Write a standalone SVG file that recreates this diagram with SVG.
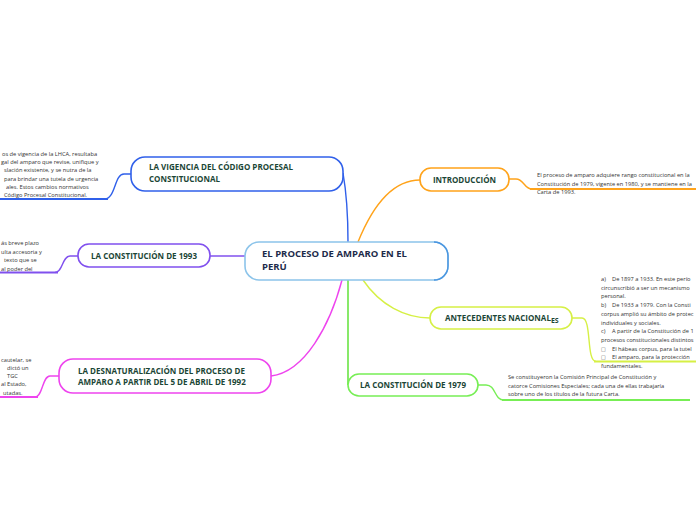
<svg xmlns="http://www.w3.org/2000/svg" width="696" height="520" viewBox="0 0 696 520">
<style>
.bg{fill:#ffffff}
.node{fill:#ffffff;stroke-width:1.6}
.lbl{font-family:"Open Sans","Noto Sans","Liberation Sans",sans-serif;font-weight:bold;font-size:8px;fill:#1b4636}
.main{font-family:"Open Sans","Noto Sans","Liberation Sans",sans-serif;font-weight:bold;font-size:9.5px;fill:#1d2b4a}
.body{font-family:"Open Sans","Noto Sans","Liberation Sans",sans-serif;font-size:5.7px;fill:#333333}
.c{fill:none;stroke-width:1.4}
.u{fill:none;stroke-width:2}
.box{font-family:"DejaVu Sans",sans-serif;font-size:5px;fill:#555555}
</style>
<rect class="bg" x="0" y="0" width="696" height="520"/>
<g id="connectors">
  <path class="c" stroke="#3060ea" d="M343,173 C346,190 348,215 348,242"/>
  <path class="c" stroke="#3060ea" d="M131,174 L124,174 C114,174 116,199 104,199"/>
  <path class="u" stroke="#3060ea" d="M0,199 H108"/>
  <path class="c" stroke="#8050ee" d="M210,256 H245"/>
  <path class="c" stroke="#8050ee" d="M78,256 L70,256 C62,256 63,272.5 55,272.5"/>
  <path class="u" stroke="#8050ee" d="M0,272.5 H58"/>
  <path class="c" stroke="#ee44ee" d="M342,280 C330,325 305,372 271,376"/>
  <path class="c" stroke="#ee44ee" d="M59,376 L50,376 C42,376 43,397 35,397"/>
  <path class="u" stroke="#ee44ee" d="M0,397 H38"/>
  <path class="c" stroke="#ffa31a" d="M358,242 C375,200 395,180 420,180"/>
  <path class="c" stroke="#ffa31a" d="M509,179 L516,179 C524,179 524,189 532,189"/>
  <path class="u" stroke="#ffa31a" d="M530,189 H696"/>
  <path class="c" stroke="#d6f045" d="M363,280 C380,305 405,318 430,318"/>
  <path class="c" stroke="#d6f045" d="M572,318 L582,318 C592,318 586,361.5 596,361.5"/>
  <path class="u" stroke="#d6f045" d="M594,361.5 H696"/>
  <path class="c" stroke="#55e02a" d="M348,280 V385"/>
  <path class="c" stroke="#77ee55" d="M478,385 L486,385 C496,385 494,400 504,400"/>
  <path class="u" stroke="#77ee55" d="M502,400 H690"/>
</g>
<g id="central">
  <rect class="node" x="245" y="242" width="203" height="38" rx="14" stroke="#8cc4ea" stroke-width="2"/>
  <path d="M434,242 A14,14 0 0 1 448,256 V266 A14,14 0 0 1 434,280" fill="none" stroke="#4a95e0" stroke-width="1.4"/>
  <text class="main" x="262" y="257">EL PROCESO DE AMPARO EN EL</text>
  <text class="main" x="262" y="270">PERÚ</text>
</g>
<g id="introduccion">
  <rect class="node" x="420" y="168" width="89" height="23" rx="11" stroke="#ffa31a"/>
  <text class="lbl" x="464.5" y="182.5" text-anchor="middle">INTRODUCCIÓN</text>
  <text class="body" x="537" y="177">El proceso de amparo adquiere rango constitucional en la</text>
  <text class="body" x="537" y="185.5">Constitución de 1979, vigente en 1980, y se mantiene en la</text>
  <text class="body" x="537" y="194">Carta de 1993.</text>
</g>
<g id="antecedentes">
  <rect class="node" x="430" y="307" width="142" height="22" rx="11" stroke="#d6f045"/>
  <text class="lbl" x="445" y="321">ANTECEDENTES NACIONAL<tspan font-size="7" dy="1.5">ES</tspan></text>
  <text class="body" x="601" y="281">a)</text><text class="body" x="612" y="281">De 1897 a 1933. En este perío</text>
  <text class="body" x="601" y="289.7">circunscribió a ser un mecanismo</text>
  <text class="body" x="601" y="298.4">personal.</text>
  <text class="body" x="601" y="307.1">b)</text><text class="body" x="612" y="307.1">De 1933 a 1979. Con la Consti</text>
  <text class="body" x="601" y="315.8">corpus amplió su ámbito de protec</text>
  <text class="body" x="601" y="324.5">individuales y sociales.</text>
  <text class="body" x="601" y="333.2">c)</text><text class="body" x="612" y="333.2">A partir de la Constitución de 1</text>
  <text class="body" x="601" y="341.9">procesos constitucionales distintos</text>
  <text class="box" x="601" y="350.6">□</text><text class="body" x="612" y="350.6">El hábeas corpus, para la tutel</text>
  <text class="box" x="601" y="359.3">□</text><text class="body" x="612" y="359.3">El amparo, para la protección</text>
  <text class="body" x="601" y="368">fundamentales.</text>
</g>
<g id="constitucion1979">
  <rect class="node" x="348" y="374" width="130" height="22" rx="11" stroke="#77ee55"/>
  <text class="lbl" x="413" y="388" text-anchor="middle">LA CONSTITUCIÓN DE 1979</text>
  <text class="body" x="508" y="379">Se constituyeron la Comisión Principal de Constitución y</text>
  <text class="body" x="508" y="387.5">catorce Comisiones Especiales; cada una de ellas trabajaría</text>
  <text class="body" x="508" y="396">sobre uno de los títulos de la futura Carta.</text>
</g>
<g id="vigencia">
  <rect class="node" x="131" y="157" width="212" height="34" rx="14" stroke="#3060ea"/>
  <text class="lbl" x="149" y="170">LA VIGENCIA DEL CÓDIGO PROCESAL</text>
  <text class="lbl" x="149" y="181.5">CONSTITUCIONAL</text>
  <text class="body" x="2" y="155.5">os de vigencia de la LHCA, resultaba</text>
  <text class="body" x="1" y="163.8">gal del amparo que revise, unifique y</text>
  <text class="body" x="4" y="172.2">slación existente, y se nutra de la</text>
  <text class="body" x="4" y="180.5">para brindar una tutela de urgencia</text>
  <text class="body" x="6" y="188.9">ales. Estos cambios normativos</text>
  <text class="body" x="4" y="197.3">Código Procesal Constitucional.</text>
</g>
<g id="constitucion1993">
  <rect class="node" x="78" y="244" width="132" height="23" rx="11" stroke="#8050ee"/>
  <text class="lbl" x="144" y="258.5" text-anchor="middle">LA CONSTITUCIÓN DE 1993</text>
  <text class="body" x="1" y="245">ás breve plazo</text>
  <text class="body" x="1" y="253.7">ulta accesoria y</text>
  <text class="body" x="4" y="262.3">texto que se</text>
  <text class="body" x="1" y="271">al poder del</text>
</g>
<g id="desnaturalizacion">
  <rect class="node" x="59" y="359" width="212" height="34" rx="14" stroke="#ee44ee"/>
  <text class="lbl" x="78" y="374">LA DESNATURALIZACIÓN DEL PROCESO DE</text>
  <text class="lbl" x="78" y="384.7">AMPARO A PARTIR DEL 5 DE ABRIL DE 1992</text>
  <text class="body" x="1" y="362">cautelar, se</text>
  <text class="body" x="7" y="369.7">dictó un</text>
  <text class="body" x="7" y="377.7">TGC</text>
  <text class="body" x="1" y="385.7">al Estado,</text>
  <text class="body" x="3" y="394.5">utadas.</text>
</g>
</svg>
